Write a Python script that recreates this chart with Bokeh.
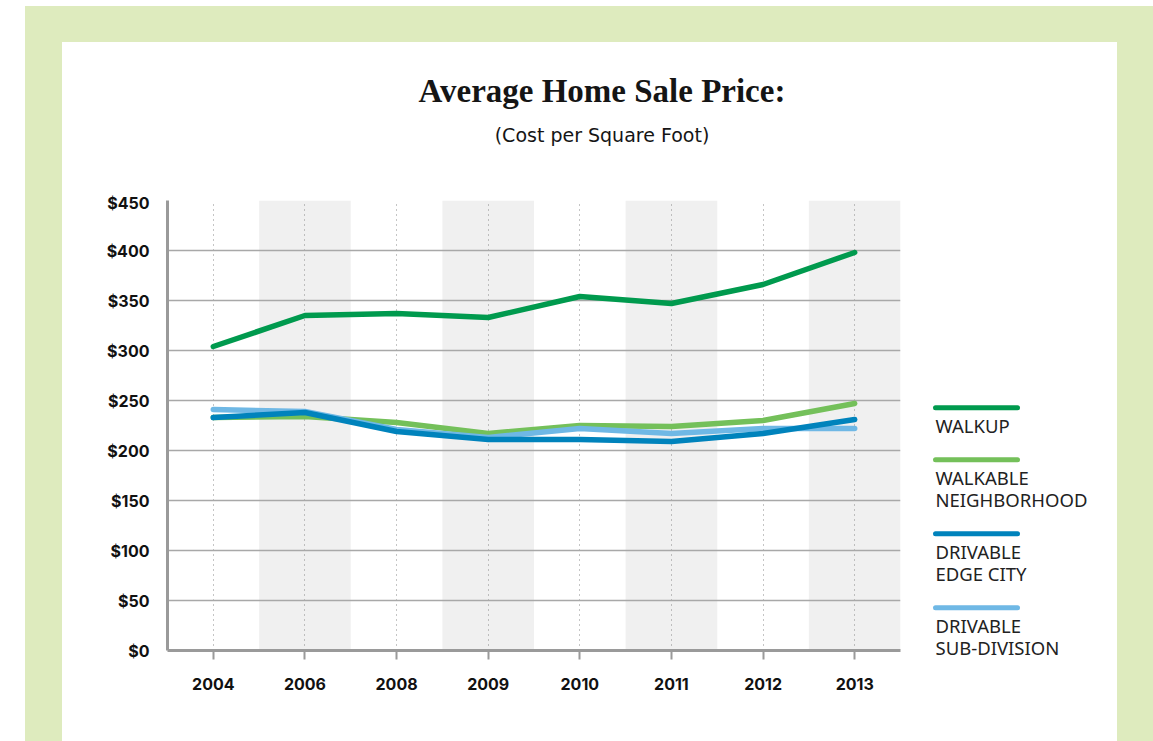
from bokeh.plotting import figure
from bokeh.layouts import row, column, Spacer
from bokeh.models import Range1d, FactorRange, FixedTicker
from bokeh.core.properties import value
from bokeh.embed import file_html
from bokeh.resources import INLINE

# ---- data ----
years = ["2004", "2006", "2008", "2009", "2010", "2011", "2012", "2013"]
walkup = [304, 335, 337, 333, 354, 347, 366, 398]
walkable_neighborhood = [233, 234, 228, 217, 225, 224, 230, 247]
drivable_edge_city = [233, 238, 219, 211, 211, 209, 217, 231]
drivable_sub_division = [241, 239, 221, 213, 222, 217, 222, 222]
shaded_years = ["2006", "2009", "2011", "2013"]
y_ticks = [0, 50, 100, 150, 200, 250, 300, 350, 400, 450]
y_tick_labels = ["$0", "$50", "$100", "$150", "$200", "$250", "$300", "$350", "$400", "$450"]
series_labels = ["WALKUP", "WALKABLE\nNEIGHBORHOOD", "DRIVABLE\nEDGE CITY", "DRIVABLE\nSUB-DIVISION"]
title_text = "Average Home Sale Price:"
subtitle_text = "(Cost per Square Foot)"

# ---- styles ----
C_WALKUP = "#009a4e"
C_WALKABLE = "#74c05a"
C_EDGE = "#0083bc"
C_SUB = "#6fb8e5"
GREEN_BG = "#deebbe"
TICK_FONT = "Inter"
WHITE = {"background-color": "white"}

PANEL_W = 1055
HEAD_H = 150
BODY_H = 549

# ---- header (title + subtitle) ----
head = figure(width=PANEL_W, height=HEAD_H, x_range=Range1d(0, PANEL_W), y_range=Range1d(HEAD_H, 0),
              x_axis_type=None, y_axis_type=None, output_backend="svg", toolbar_location=None,
              min_border=0, outline_line_color=None, border_fill_color="white",
              background_fill_color="white")
head.frame_align = False
head.grid.visible = False
head.text(x=[539.5], y=[48], text=[title_text], text_align="center", text_baseline="alphabetic",
          text_font=value("Liberation Serif"), text_font_size="33px", text_font_style="bold",
          text_color="#151515")
head.text(x=[539.5], y=[92], text=[subtitle_text], text_align="center", text_baseline="alphabetic",
          text_font=value("DejaVu Sans"), text_font_size="19px", text_color="#151515")

# ---- main chart ----
p = figure(x_range=FactorRange(factors=years), y_range=Range1d(0, 450),
           width=858, height=BODY_H, output_backend="svg", toolbar_location=None,
           min_border_left=105, min_border_right=20, min_border_top=8, min_border_bottom=BODY_H - 458,
           background_fill_color="white", border_fill_color="white", outline_line_color=None)
p.frame_align = False

p.vbar(x=shaded_years, top=450, bottom=0, width=1.0, fill_color="#f0f0f0",
       line_color=None, level="image")

p.ygrid.ticker = FixedTicker(ticks=y_ticks)
p.ygrid.grid_line_color = "#a8a8a8"
p.ygrid.grid_line_width = 1.5
p.xgrid.grid_line_color = "#8a8a8a"
p.xgrid.grid_line_width = 1
p.xgrid.grid_line_dash = "1 4"

p.yaxis.ticker = FixedTicker(ticks=y_ticks)
p.yaxis.major_label_overrides = dict(zip(y_ticks, y_tick_labels))
p.yaxis.major_tick_line_color = None
p.yaxis.minor_tick_line_color = None
p.yaxis.major_label_standoff = 12
for ax in (p.xaxis[0], p.yaxis[0]):
    ax.axis_line_color = "#9a9a9a"
    ax.axis_line_width = 3
    ax.major_label_text_font = TICK_FONT
    ax.major_label_text_font_style = "bold"
    ax.major_label_text_font_size = "16px"
    ax.major_label_text_color = "#111111"
p.xaxis.major_tick_in = 0
p.xaxis.major_tick_out = 9
p.xaxis.major_tick_line_color = "#9a9a9a"
p.xaxis.major_tick_line_width = 2
p.xaxis.major_label_standoff = 18

for vals, col in [(walkable_neighborhood, C_WALKABLE), (drivable_sub_division, C_SUB),
                  (drivable_edge_city, C_EDGE), (walkup, C_WALKUP)]:
    p.line(years, vals, line_color=col, line_width=5.5, line_cap="round", line_join="round")

# ---- legend panel ----
lg = figure(width=PANEL_W - 858, height=BODY_H, x_range=Range1d(0, PANEL_W - 858),
            y_range=Range1d(BODY_H, 0), x_axis_type=None, y_axis_type=None,
            output_backend="svg", toolbar_location=None, min_border=0,
            outline_line_color=None, border_fill_color="white", background_fill_color="white")
lg.frame_align = False
lg.grid.visible = False
colors = [C_WALKUP, C_WALKABLE, C_EDGE, C_SUB]
ys = []
y = 365.3 - HEAD_H
for lab in series_labels:
    ys.append(y)
    y += 30 + 22 * len(lab.split("\n"))
lg.segment(x0=15, x1=97, y0=ys, y1=ys, line_color=colors, line_width=5, line_cap="round")
lg.text(x=15, y=[v + 5 for v in ys], text=series_labels, text_font=value("Noto Sans"),
        text_font_size="18.5px", text_baseline="top", text_line_height=0.9,
        text_color="#222222")

panel = column(head, row(p, lg, styles=WHITE), styles=WHITE)
green = column(Spacer(height=36),
               row(Spacer(width=37), panel, Spacer(width=36)),
               styles={"background-color": GREEN_BG})
page = column(Spacer(height=6), row(Spacer(width=25), green))

open("out.html", "w").write(file_html(page, INLINE))
